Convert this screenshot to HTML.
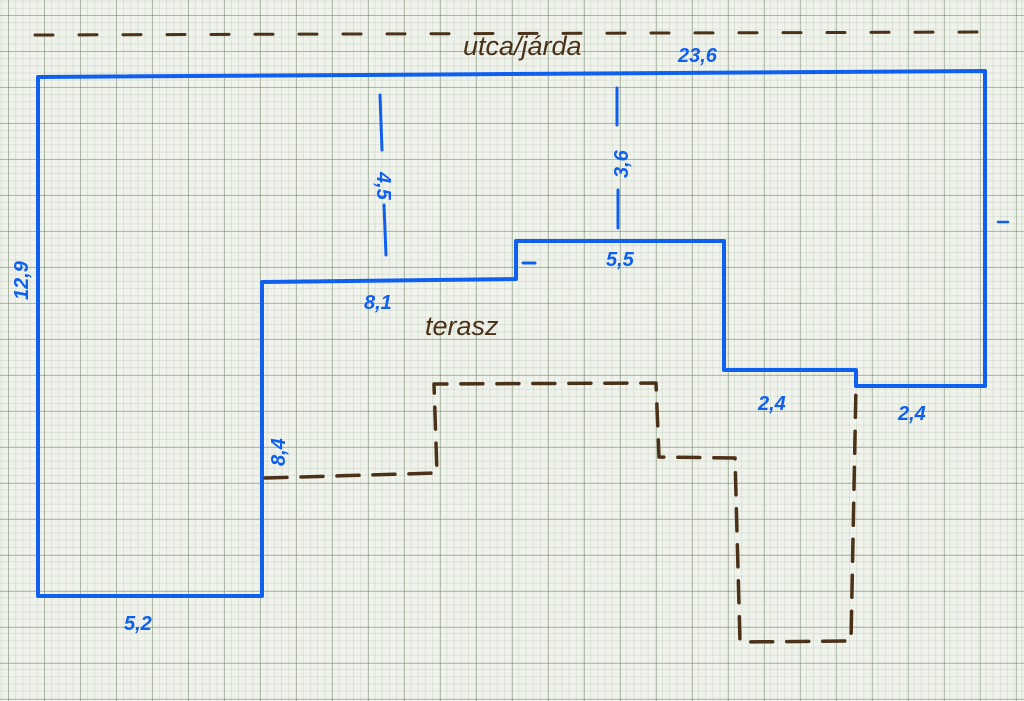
<!DOCTYPE html>
<html><head><meta charset="utf-8"><style>
html,body{margin:0;padding:0}
body{width:1024px;height:701px;overflow:hidden;
background-color:#f0f3ec;
background-image:
linear-gradient(to right, rgba(100,120,90,.42) 1px, transparent 1px),
linear-gradient(to bottom, rgba(100,120,90,.42) 1px, transparent 1px),
linear-gradient(to right, rgba(130,150,120,.18) 1px, transparent 1px),
linear-gradient(to bottom, rgba(130,150,120,.18) 1px, transparent 1px);
background-size:36px 36px,36px 36px,7.2px 7.2px,7.2px 7.2px;
background-position:8px 15px,8px 15px,8px 15px,8px 15px;}
svg{position:absolute;left:0;top:0}
text{font-family:"Liberation Sans",sans-serif;font-style:italic}
</style></head><body>
<svg width="1024" height="701" viewBox="0 0 1024 701">
<g fill="none" stroke-linecap="round" stroke-linejoin="round">
<line x1="35" y1="35" x2="985" y2="32" stroke="#4a3118" stroke-width="3" stroke-dasharray="18,26"/>
<path d="M38,77 L985,71 L985,386 L856,386 L856,370 L724,370 L724,241 L516,241 L516,279 L262,282 L262,596 L38,596 Z" stroke="#1060f0" stroke-width="4"/>
<line x1="380" y1="95" x2="382" y2="150" stroke="#1060f0" stroke-width="3"/>
<line x1="384" y1="205" x2="386" y2="255" stroke="#1060f0" stroke-width="3"/>
<line x1="617" y1="88" x2="617" y2="125" stroke="#1060f0" stroke-width="3"/>
<line x1="618" y1="190" x2="618" y2="228" stroke="#1060f0" stroke-width="3"/>
<path d="M265,478 L437,473 L434,384 L656,383 L659,457 L735,458 L740,642 L851,641 L856,386" stroke="#4a3118" stroke-width="3.5" stroke-dasharray="22,14"/>
<line x1="523" y1="263" x2="535" y2="263" stroke="#1060f0" stroke-width="3"/>
<line x1="998" y1="222" x2="1008" y2="222" stroke="#1060f0" stroke-width="2.5"/>
</g>
<g fill="#1060f0" font-size="20" font-weight="bold">
<text x="678" y="62">23,6</text>
<text x="606" y="266">5,5</text>
<text x="364" y="309">8,1</text>
<text x="124" y="630">5,2</text>
<text x="758" y="410">2,4</text>
<text x="898" y="420">2,4</text>
<text transform="translate(28,300) rotate(-90)">12,9</text>
<text transform="translate(377,172) rotate(90)">4,5</text>
<text transform="translate(628,178) rotate(-90)">3,6</text>
<text transform="translate(285,466) rotate(-90)">8,4</text>
</g>
<g fill="#4a3118" font-size="27">
<text x="463" y="55">utca/járda</text>
<text x="425" y="335">terasz</text>
</g>
</svg>
</body></html>
